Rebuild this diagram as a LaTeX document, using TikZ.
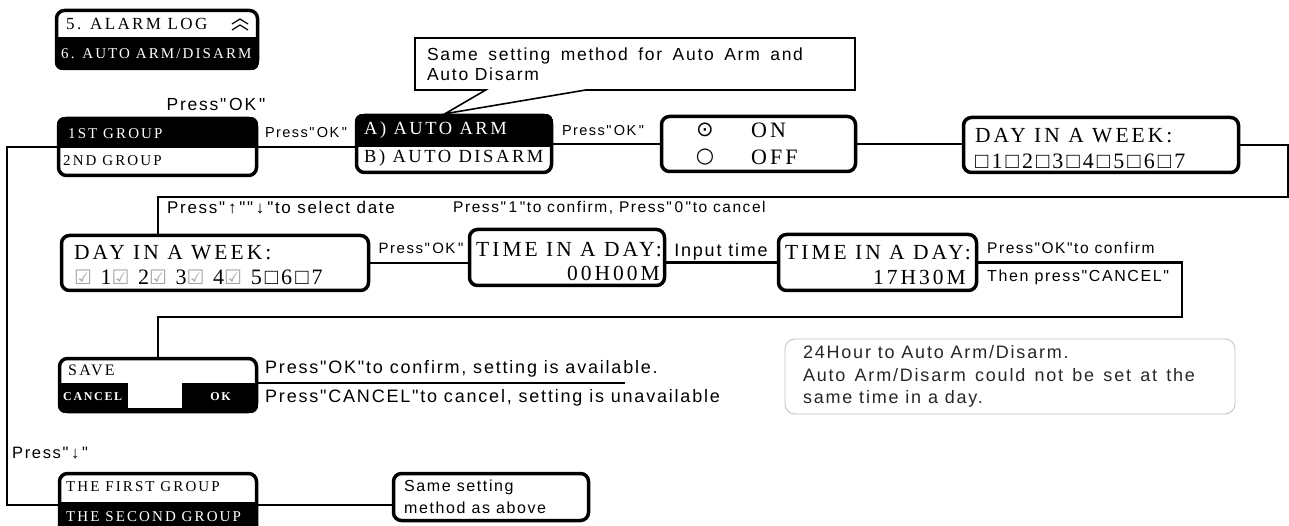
\documentclass[tikz,border=0pt]{standalone}
\usepackage{fontspec}
\setmainfont{Liberation Serif}
\newfontfamily\lcdfont{Liberation Serif}[LetterSpace=14]
\newfontfamily\lblfont{Liberation Sans}[LetterSpace=10]
\newfontfamily\symfont{DejaVu Sans}
\usetikzlibrary{shapes.callouts}

\begin{document}
\begin{tikzpicture}
  [x=1pt, y=-1pt,
   frame/.style={draw, line width=3.5pt, rounded corners=8pt, inner sep=0pt},
   conn/.style={line width=2.6pt},
   lcd/.style={inner sep=0pt, anchor=west, font=\lcdfont\fontsize{#1}{#1}\selectfont},
   lbl/.style={inner sep=0pt, font=\lblfont\fontsize{#1}{#1}\selectfont},
   sym/.style={inner sep=0pt, font=\symfont\fontsize{#1}{#1}\selectfont},
   onblack/.style={text=white}]

  \useasboundingbox (0,0) rectangle (1289,526);

  % boxes
  \node[frame, minimum width=201, minimum height=58] (menu) at (157,39.5) {};
  \node[frame, minimum width=198, minimum height=57] (grp) at (157.5,147) {};
  \node[frame, minimum width=195, minimum height=57] (arm) at (454,144) {};
  \node[frame, minimum width=194, minimum height=55] (onoff) at (758.5,144) {};
  \node[frame, minimum width=275, minimum height=55] (week) at (1101,145) {};
  \node[frame, minimum width=307, minimum height=55] (week2) at (215,263) {};
  \node[frame, minimum width=195, minimum height=56] (time1) at (567,257.5) {};
  \node[frame, minimum width=198, minimum height=56] (time2) at (877.5,262.5) {};
  \node[frame, minimum width=197, minimum height=53] (save) at (158,385) {};
  \node[frame, minimum width=197, minimum height=63] (grpsel) at (158,505) {};
  \node[frame, minimum width=195, minimum height=47] (same) at (491,497) {};

  % black rows
  \begin{scope}
    \clip[rounded corners=8pt] (menu.south west) rectangle (menu.north east);
    \fill (menu.west |- 0,37) rectangle (menu.south east);
  \end{scope}
  \begin{scope}
    \clip[rounded corners=8pt] (grp.south west) rectangle (grp.north east);
    \fill (grp.north west) rectangle (grp.east |- 0,148);
  \end{scope}
  \begin{scope}
    \clip[rounded corners=8pt] (arm.south west) rectangle (arm.north east);
    \fill (arm.north west) rectangle (arm.east |- 0,147);
  \end{scope}
  \begin{scope}
    \clip[rounded corners=8pt] (save.south west) rectangle (save.north east);
    \fill (save.west |- 0,383) rectangle (save.south east);
    \fill[white] (128,383) rectangle (182,408);
  \end{scope}
  \begin{scope}
    \clip[rounded corners=8pt] (grpsel.south west) rectangle (grpsel.north east);
    \fill (grpsel.west |- 0,502) rectangle (grpsel.south east);
  \end{scope}

  % menu
  \node[lcd=17] (alarm) at (66,24) {5. ALARM LOG};
  \draw[line width=1.2pt] (232,24) -- (240,19) -- (248,24) (232,30) -- (240,25) -- (248,30);
  \node[lcd=15, onblack] (autoarm) at (61,54) {6. AUTO ARM/DISARM};

  % groups
  \node[lbl=17.5] (ok0) at (216,104) {Press"\,OK\,"};
  \node[lcd=15, onblack] (g1) at (68,134) {1ST GROUP};
  \node[lcd=15] (g2) at (63,161) {2ND GROUP};
  \node[lbl=14.5] (ok1) at (306,133) {Press"\,OK\,"};

  \node[rectangle callout, draw, line width=1.6pt, minimum width=440, minimum height=52,
        inner xsep=12pt, text width=416, align=justify,
        font=\lblfont\fontsize{17.5}{19.5}\selectfont,
        callout absolute pointer={([xshift=-9pt]arm.north)}, callout pointer width=100pt]
    (note1) at (635,64) {\leavevmode\rightskip=40pt Same setting method for Auto Arm and\linebreak Auto Disarm\par};

  \node[lcd=18.5, onblack] (aarm) at (364,130) {A) AUTO ARM};
  \node[lcd=18.5] (bdis) at (364,158) {B) AUTO DISARM};
  \node[lbl=14.5] (ok2) at (603,131) {Press"\,OK\,"};

  \node[sym=21] (dot) at (705,130) {⊙};
  \node[sym=21] (circ) at (705,157) {○};
  \node[lcd=22] (on) at (751,130) {ON};
  \node[lcd=22] (off) at (751,157) {OFF};

  \node[lcd=21.5] (wk) at (975,136) {DAY IN A WEEK:};
  \node[lcd=22] (wkdays) at (975,161) {□1□2□3□4□5□6□7};

  % second row
  \node[lbl=17, anchor=west] (sel) at (167,208) {Press"\,↑\,""\,↓\,"to select date};
  \node[lbl=15.5, anchor=west] (conf) at (453,208) {Press"\,1\,"to confirm, Press"\,0\,"to cancel};
  \node[lcd=21.5] (wk2) at (74,253) {DAY IN A WEEK:};
  \node[lcd=22] (wk2days) at (74,277)
    {{\symfont\fontsize{20}{20}\selectfont\color{black!35}☑} 1{\symfont\fontsize{20}{20}\selectfont\color{black!35}☑} 2{\symfont\fontsize{20}{20}\selectfont\color{black!35}☑} 3{\symfont\fontsize{20}{20}\selectfont\color{black!35}☑} 4{\symfont\fontsize{20}{20}\selectfont\color{black!35}☑} 5□6□7};
  \node[lbl=15] (ok3) at (421,248) {Press"\,OK\,"};
  \node[lcd=21.5] (tm1) at (476,250) {TIME IN A DAY:};
  \node[lcd=21.5, anchor=east] (tm1v) at (660,273) {00H00M};
  \node[lbl=18] (inp) at (721,252) {Input time};
  \node[lcd=21.5] (tm2) at (785,253) {TIME IN A DAY:};
  \node[lcd=21.5, anchor=east] (tm2v) at (966,277) {17H30M};
  \node[lbl=15.5, anchor=west] (okc) at (987,248) {Press"OK"to confirm};
  \node[lbl=16, anchor=west] (thn) at (987,277) {Then press"CANCEL"};

  % save
  \node[lcd=16] (sv) at (68,370) {SAVE};
  \node[lcd=12, onblack] (cn) at (63,397) {\bfseries CANCEL};
  \node[lcd=12, onblack, anchor=east] (okb) at (231,397) {\bfseries OK};
  \node[lbl=18, anchor=west] (avail) at (265,369) {Press"OK"to confirm, setting is available.};
  \node[lbl=18, anchor=west] (unav) at (265,398) {Press"CANCEL"to cancel, setting is unavailable};
  \coordinate (avend) at (625,383);

  \node[draw=black!25, line width=0.8pt, rounded corners=10pt, minimum width=450, minimum height=75,
        inner xsep=18pt, text width=414, align=justify, text=black!85,
        font=\lblfont\fontsize{18}{22.5}\selectfont]
    (note2) at (1010,376.5) {24Hour to Auto Arm/Disarm.\par\leavevmode\rightskip=22pt Auto Arm/Disarm could not be set at the\linebreak same time in a day.\par};

  % second group
  \node[lbl=16.5, anchor=west] (down) at (12,453) {Press"\,↓\,"};
  \node[lcd=15] (first) at (66,487) {THE FIRST GROUP};
  \node[lcd=15, onblack] (second) at (66,517) {THE SECOND GROUP};
  \node[inner sep=0pt, anchor=west, align=left, font=\lblfont\fontsize{16}{22}\selectfont]
    (samet) at (404,497) {Same setting\\method as above};

  % connectors
  \coordinate (r1) at (1288,197);
  \coordinate (l1) at (158,197);
  \coordinate (r2) at (1182,317);
  \coordinate (l2) at (158,317);
  \draw[conn] (grp.west) -- (7,147) |- (grpsel.west);
  \draw[conn] (grp.east) -- (grp.east -| arm.west);
  \draw[conn] (arm.east) -- (onoff.west);
  \draw[conn] (onoff.east) -- (onoff.east -| week.west);
  \draw[conn] (week.east) -| (r1) -- (l1) -- (l1 |- week2.north);
  \draw[conn] (week2.east) -- (week2.east -| time1.west);
  \draw[conn] (time2.west -| time1.east) -- (time2.west);
  \draw[conn] (time2.east) -| (r2) -- (l2) -- (l2 |- save.north);
  \draw[conn] (save.east |- avend) -- (avend);
  \draw[conn] (grpsel.east) -- (grpsel.east -| same.west);
\end{tikzpicture}
\end{document}
